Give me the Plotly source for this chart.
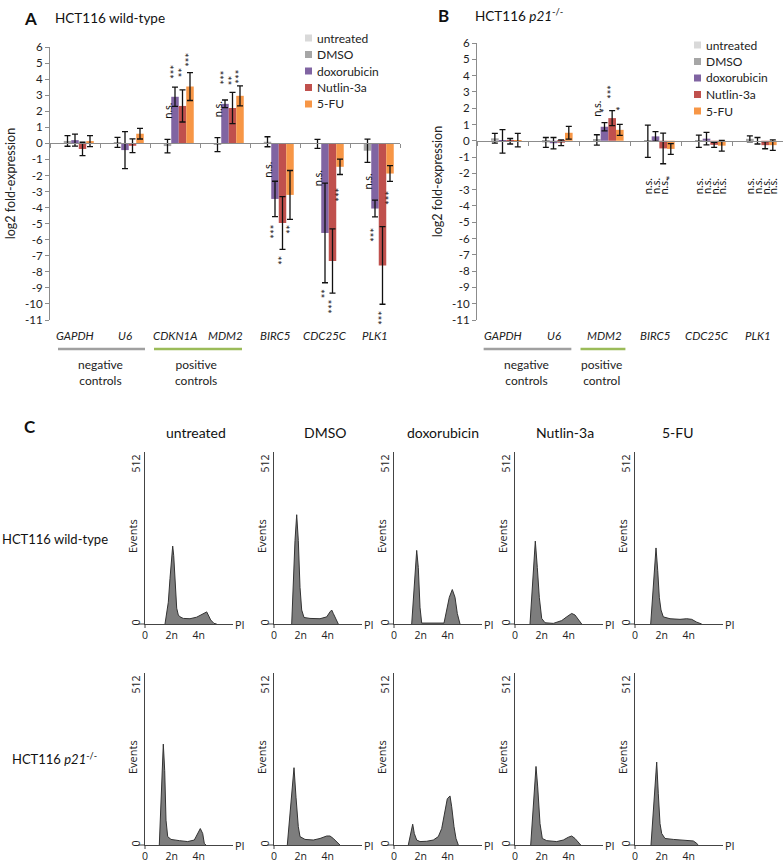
import plotly.graph_objects as go

W, H = 784, 863
FONT = "Lato, Carlito, Calibri, sans-serif"
HFONT = "Open Sans, DejaVu Sans, sans-serif"

SERIES = ["untreated", "DMSO", "doxorubicin", "Nutlin-3a", "5-FU"]
COLORS = ["#d9d9d9", "#a6a6a6", "#8064a2", "#c0504d", "#f79646"]

# ---------------- Panel A: HCT116 wild-type ----------------
GENES_A = ["GAPDH", "U6", "CDKN1A", "MDM2", "BIRC5", "CDC25C", "PLK1"]
A_UNTREATED = [0, 0, 0, 0, 0, 0, 0]
A_DMSO = [0.15, 0.06, -0.17, -0.08, 0.10, -0.03, -0.46]
A_DMSO_ERR = [0.33, 0.31, 0.42, 0.44, 0.31, 0.28, 0.72]
A_DOX = [0.20, -0.42, 2.90, 2.46, -3.46, -5.58, -4.06]
A_DOX_ERR = [0.37, 1.15, 0.60, 0.24, 1.10, 3.10, 0.52]
A_NUT = [-0.35, -0.15, 2.33, 2.20, -4.96, -7.33, -7.60]
A_NUT_ERR = [0.42, 0.43, 1.00, 0.97, 1.64, 2.00, 2.42]
A_FU = [0.14, 0.60, 3.54, 2.96, -3.21, -1.46, -1.88]
A_FU_ERR = [0.34, 0.33, 0.87, 0.62, 1.52, 0.48, 0.49]

SIG_A = [
    ("CDKN1A", "DMSO", "n.s.", 2.0), ("CDKN1A", "doxorubicin", "***", 4.45),
    ("CDKN1A", "Nutlin-3a", "**", 4.4), ("CDKN1A", "5-FU", "***", 5.2),
    ("MDM2", "DMSO", "n.s.", 2.1), ("MDM2", "doxorubicin", "***", 4.1),
    ("MDM2", "Nutlin-3a", "**", 3.9), ("MDM2", "5-FU", "***", 4.15),
    ("BIRC5", "DMSO", "n.s.", -1.67), ("BIRC5", "doxorubicin", "***", -5.5),
    ("BIRC5", "Nutlin-3a", "**", -7.3), ("BIRC5", "5-FU", "**", -5.4),
    ("CDC25C", "DMSO", "n.s.", -2.2), ("CDC25C", "doxorubicin", "**", -9.4),
    ("CDC25C", "Nutlin-3a", "***", -10.2), ("CDC25C", "5-FU", "***", -3.2),
    ("PLK1", "DMSO", "n.s.", -2.4), ("PLK1", "doxorubicin", "***", -5.7),
    ("PLK1", "Nutlin-3a", "***", -10.9), ("PLK1", "5-FU", "***", -3.4),
]

# ---------------- Panel B: HCT116 p21-/- ----------------
GENES_B = ["GAPDH", "U6", "MDM2", "BIRC5", "CDC25C", "PLK1"]
B_UNTREATED = [0, 0, 0, 0, 0, 0]
B_DMSO = [0.15, -0.10, 0.05, -0.03, -0.03, 0.12]
B_DMSO_ERR = [0.30, 0.30, 0.32, 0.99, 0.38, 0.18]
B_DOX = [-0.04, -0.15, 0.86, 0.27, 0.13, 0.00]
B_DOX_ERR = [0.72, 0.35, 0.25, 0.29, 0.38, 0.20]
B_NUT = [-0.03, -0.12, 1.39, -0.47, -0.25, -0.27]
B_NUT_ERR = [0.17, 0.18, 0.46, 0.94, 0.15, 0.22]
B_FU = [0.04, 0.49, 0.67, -0.50, -0.30, -0.27]
B_FU_ERR = [0.41, 0.39, 0.34, 0.33, 0.33, 0.32]

SIG_B = [
    ("MDM2", "DMSO", "n.s.", 1.95), ("MDM2", "doxorubicin", "*", 1.85),
    ("MDM2", "Nutlin-3a", "***", 3.0), ("MDM2", "5-FU", "*", 2.0),
    ("BIRC5", "DMSO", "n.s.", -2.8), ("BIRC5", "doxorubicin", "n.s.", -2.8),
    ("BIRC5", "Nutlin-3a", "n.s.", -2.8), ("BIRC5", "5-FU", "*", -2.25),
    ("CDC25C", "DMSO", "n.s.", -2.8), ("CDC25C", "doxorubicin", "n.s.", -2.8),
    ("CDC25C", "Nutlin-3a", "n.s.", -2.8), ("CDC25C", "5-FU", "n.s.", -2.8),
    ("PLK1", "DMSO", "n.s.", -2.8), ("PLK1", "doxorubicin", "n.s.", -2.8),
    ("PLK1", "Nutlin-3a", "n.s.", -2.8), ("PLK1", "5-FU", "n.s.", -2.8),
]

# ---------------- Panel C: PI cell-cycle histograms ----------------
WT_UNTREATED_PI = [200, 233, 250, 267, 277, 287, 300, 317, 333, 350, 383, 450, 517, 567, 600, 617, 633, 657, 690, 717]
WT_UNTREATED_EV = [0, 70, 147, 230, 251, 221, 125, 51, 29, 23, 18, 17, 22, 29, 36, 39, 29, 13, 2, 0]
WT_DMSO_PI = [177, 193, 210, 227, 243, 260, 277, 300, 360, 460, 527, 560, 577, 593, 620, 643]
WT_DMSO_EV = [0, 141, 269, 352, 269, 118, 45, 21, 18, 17, 23, 39, 45, 34, 13, 0]
WT_DOX_PI = [177, 193, 210, 227, 243, 260, 277, 393, 500, 527, 553, 583, 610, 633, 660]
WT_DOX_EV = [0, 86, 182, 237, 182, 54, 3, 2, 3, 45, 86, 111, 86, 34, 0]
WT_NUT_PI = [150, 167, 183, 203, 223, 243, 267, 300, 383, 467, 517, 567, 600, 633, 667]
WT_NUT_EV = [0, 98, 182, 267, 182, 86, 18, 4, 2, 11, 23, 34, 29, 13, 0]
WT_FU_PI = [157, 177, 193, 210, 227, 243, 260, 283, 350, 450, 517, 567, 617, 667]
WT_FU_EV = [0, 98, 182, 245, 173, 86, 45, 23, 17, 15, 17, 15, 6, 0]

KO_UNTREATED_PI = [143, 160, 173, 183, 197, 210, 227, 260, 343, 427, 493, 527, 553, 577, 593, 610]
KO_UNTREATED_EV = [0, 122, 240, 325, 240, 80, 27, 18, 14, 11, 16, 37, 53, 37, 5, 0]
KO_DMSO_PI = [133, 153, 177, 200, 220, 243, 260, 310, 393, 460, 527, 560, 593, 627, 660]
KO_DMSO_EV = [0, 80, 165, 249, 154, 59, 27, 18, 16, 21, 29, 29, 21, 11, 0]
KO_DOX_PI = [143, 160, 187, 203, 227, 260, 327, 393, 443, 477, 510, 533, 560, 577, 600, 620, 643]
KO_DOX_EV = [0, 27, 67, 37, 16, 11, 12, 16, 27, 53, 112, 149, 158, 123, 59, 21, 0]
KO_NUT_PI = [157, 177, 193, 210, 227, 250, 273, 317, 417, 483, 533, 567, 600, 633, 657]
KO_NUT_EV = [0, 91, 187, 253, 187, 69, 21, 14, 11, 16, 25, 29, 21, 7, 0]
KO_FU_PI = [160, 177, 197, 217, 233, 250, 267, 300, 383, 483, 583, 610, 633]
KO_FU_EV = [0, 80, 187, 267, 165, 69, 37, 21, 18, 16, 13, 7, 0]

PI_TICKS = [0, 267, 537]
PI_TICKTEXT = ["0", "2n", "4n"]
EV_TICKS = [0, 512]
EV_TICKTEXT = ["0", "512"]


def px(p):
    return p / W


def py(p):
    return 1 - p / H


fig = go.Figure()
annotations = []
shapes = []

GROUP_OFF = {s: -0.3 + 0.15 * i for i, s in enumerate(SERIES)}


def ann(**kw):
    d = dict(showarrow=False, xanchor="center", yanchor="middle")
    d.update(kw)
    annotations.append(d)


def add_bar_panel(genes, vals, errs, sigs, xa, ya):
    xi = "x" if xa == 1 else f"x{xa}"
    yi = "y" if ya == 1 else f"y{ya}"
    for s, c, v, e in zip(SERIES, COLORS, vals, errs):
        kw = {}
        if e is not None:
            kw["error_y"] = dict(type="data", array=e, visible=True, color="#111111",
                                 thickness=1.3, width=3)
        fig.add_trace(go.Bar(x=genes, y=v, name=s, marker=dict(color=c, line_width=0),
                             xaxis=xi, yaxis=yi, showlegend=False, **kw))
    for g, s, t, yv in sigs:
        ann(x=genes.index(g) + GROUP_OFF[s], y=yv, xref=xi, yref=yi, text=t, textangle=-90,
            font=dict(size=11, color="#111111", family=FONT))


add_bar_panel(GENES_A, [A_UNTREATED, A_DMSO, A_DOX, A_NUT, A_FU],
              [None, A_DMSO_ERR, A_DOX_ERR, A_NUT_ERR, A_FU_ERR], SIG_A, 1, 1)
add_bar_panel(GENES_B, [B_UNTREATED, B_DMSO, B_DOX, B_NUT, B_FU],
              [None, B_DMSO_ERR, B_DOX_ERR, B_NUT_ERR, B_FU_ERR], SIG_B, 2, 2)

YMIN, YMAX = -11, 6
ticks = list(range(YMIN, YMAX + 1))
AXC = "#8c8c8c"


def bar_axes(xdom_px, ydom_px, genes):
    yd = [py(ydom_px[1]), py(ydom_px[0])]
    zero_pos = yd[0] + (0 - YMIN) / (YMAX - YMIN) * (yd[1] - yd[0])
    xax = dict(domain=[px(xdom_px[0]), px(xdom_px[1])], type="category",
               categoryorder="array", categoryarray=genes, automargin=False,
               range=[-0.5, len(genes) - 0.5], anchor="free", position=zero_pos,
               showline=True, linecolor=AXC, linewidth=1, ticks="outside", ticklen=4,
               tickcolor=AXC, tickson="boundaries", showticklabels=False,
               showgrid=False, zeroline=False)
    yax = dict(domain=yd, range=[YMIN, YMAX], tickvals=ticks, automargin=False,
               ticktext=[str(t) for t in ticks], showline=True, linecolor=AXC,
               ticks="outside", ticklen=4, tickcolor=AXC, showgrid=False, zeroline=False,
               tickfont=dict(size=11.5, family=FONT, color="#222"),
               title=dict(text="log2 fold-expression", standoff=6,
                          font=dict(size=12.5, family=FONT, color="#222")))
    return xax, yax


xa1, ya1 = bar_axes((50, 400), (47, 320), GENES_A)
xa2, ya2 = bar_axes((477, 783), (43, 320), GENES_B)
ya1["anchor"] = "x"
ya2["anchor"] = "x2"
layout_axes = {"xaxis": xa1, "yaxis": ya1, "xaxis2": xa2, "yaxis2": ya2}

# category labels
for genes, xi in ((GENES_A, "x"), (GENES_B, "x2")):
    for g in genes:
        ann(x=g, y=py(335), xref=xi, yref="paper", text=f"<i>{g}</i>",
            font=dict(size=11.5, family=FONT, color="#222"))

# control group brackets
GRAY_LINE = "#a0a0a0"
GREEN_LINE = "#9bbb59"
for xi, x0, x1, col in (("x", -0.34, 1.4, GRAY_LINE), ("x", 1.58, 3.34, GREEN_LINE),
                        ("x2", -0.37, 1.35, GRAY_LINE), ("x2", 1.53, 2.41, GREEN_LINE)):
    shapes.append(dict(type="line", xref=xi, yref="paper", x0=x0, x1=x1, y0=py(349), y1=py(349),
                       line=dict(color=col, width=2.5)))
for xi, xv, t in (("x", 0.5, "negative<br>controls"), ("x", 2.42, "positive<br>controls"),
                  ("x2", 0.47, "negative<br>controls"), ("x2", 1.94, "positive<br>control")):
    ann(x=xv, y=py(372), xref=xi, yref="paper", text=t,
        font=dict(size=12, family=FONT, color="#222"))

# manual legends
for lx, ly0 in ((305, 38), (694, 45)):
    for i, (s, c) in enumerate(zip(SERIES, COLORS)):
        yc = ly0 + i * 16.5
        shapes.append(dict(type="rect", xref="paper", yref="paper", x0=px(lx), x1=px(lx + 7),
                           y0=py(yc + 3.5), y1=py(yc - 3.5), fillcolor=c, line_width=0))
        ann(x=px(lx + 10), y=py(yc), xref="paper", yref="paper", text=s, xanchor="left",
            font=dict(size=12, family=FONT, color="#222"))

# panel titles
for t, x, y, sz, bold in (("A", 22, 18, 17, True), ("HCT116 wild-type", 53, 18, 13.5, False),
                          ("B", 436, 15, 17, True),
                          ("HCT116 <i>p21</i><sup>-/-</sup>", 473, 15, 13.5, False),
                          ("C", 22, 426, 17, True)):
    ann(x=px(x), y=py(y), xref="paper", yref="paper",
        text=f"<b>{t}</b>" if bold else t, xanchor="left",
        font=dict(size=sz, family=FONT, color="#111"))

# ---------------- histograms ----------------
COND_HEADERS = ["untreated", "DMSO", "doxorubicin", "Nutlin-3a", "5-FU"]
HEADER_X = [196, 325, 443, 565, 678]
COL_X = [145, 274, 394, 515, 635]
ROW_BASE = [624, 845]
HIST_W = 88
HIST_H = 172
hists = [
    [(WT_UNTREATED_PI, WT_UNTREATED_EV), (WT_DMSO_PI, WT_DMSO_EV), (WT_DOX_PI, WT_DOX_EV),
     (WT_NUT_PI, WT_NUT_EV), (WT_FU_PI, WT_FU_EV)],
    [(KO_UNTREATED_PI, KO_UNTREATED_EV), (KO_DMSO_PI, KO_DMSO_EV), (KO_DOX_PI, KO_DOX_EV),
     (KO_NUT_PI, KO_NUT_EV), (KO_FU_PI, KO_FU_EV)],
]
HAX = "#444444"
n = 3
for r in range(2):
    base = ROW_BASE[r]
    for c in range(5):
        xpi, yev = hists[r][c]
        fig.add_trace(go.Scatter(x=xpi, y=yev, mode="lines", fill="tozeroy",
                                 fillcolor="#7d7d7d", line=dict(color="#333333", width=1),
                                 xaxis=f"x{n}", yaxis=f"y{n}", showlegend=False))
        ax = COL_X[c]
        layout_axes[f"xaxis{n}"] = dict(
            domain=[px(ax), px(ax + HIST_W)], range=[0, 880], anchor=f"y{n}", automargin=False,
            showline=True, linecolor=HAX, linewidth=1, showgrid=False, zeroline=False,
            tickvals=PI_TICKS, ticktext=PI_TICKTEXT, ticks="", ticklabelstandoff=1,
            tickfont=dict(size=10.5, family=HFONT, color="#222"))
        layout_axes[f"yaxis{n}"] = dict(
            domain=[py(base), py(base - HIST_H)], range=[0, 554], anchor=f"x{n}", automargin=False,
            showline=True, linecolor=HAX, linewidth=1, showgrid=False, zeroline=False,
            tickvals=EV_TICKS, ticktext=EV_TICKTEXT, ticks="", tickangle=-90,
            tickfont=dict(size=10.5, family=HFONT, color="#222"))
        ann(x=px(ax - 13), y=py(base - 88), xref="paper", yref="paper",
            text="Events", textangle=-90, font=dict(size=11, family=HFONT, color="#222"))
        ann(x=px(ax + HIST_W + 7), y=py(base), xref="paper", yref="paper",
            text="PI", font=dict(size=11, family=HFONT, color="#222"))
        shapes.append(dict(type="line", xref="paper", yref="paper", x0=px(ax - 7), x1=px(ax),
                           y0=py(base), y1=py(base), line=dict(color=HAX, width=1)))
        shapes.append(dict(type="line", xref="paper", yref="paper", x0=px(ax), x1=px(ax),
                           y0=py(base), y1=py(base + 4), line=dict(color=HAX, width=1)))
        n += 1

for t, x in zip(COND_HEADERS, HEADER_X):
    ann(x=px(x), y=py(432), xref="paper", yref="paper", text=t,
        font=dict(size=14, family=FONT, color="#111"))
for t, y in (("HCT116 wild-type", 539), ("HCT116 <i>p21</i><sup>-/-</sup>", 758)):
    ann(x=px(55), y=py(y), xref="paper", yref="paper", text=t,
        font=dict(size=13, family=FONT, color="#111"))

fig.update_layout(
    template="none",
    width=W, height=H, margin=dict(l=0, r=0, t=0, b=0, autoexpand=False),
    paper_bgcolor="white", plot_bgcolor="white",
    barmode="group", bargap=0.25, bargroupgap=0,
    showlegend=False, font=dict(family=FONT),
    annotations=annotations, shapes=shapes, **layout_axes,
)
fig.write_html("out.html", config={"displayModeBar": False},
               post_script="document.body.style.margin='0';")
